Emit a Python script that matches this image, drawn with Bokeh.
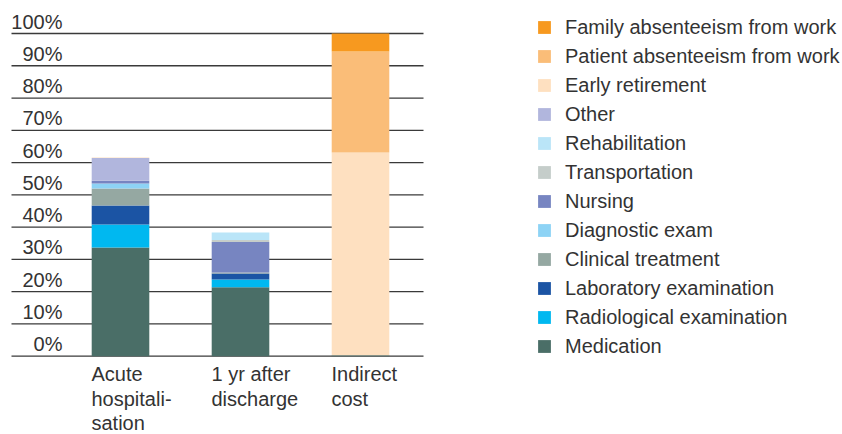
from bokeh.plotting import figure
from bokeh.models import Range1d, ColumnDataSource, Legend, LegendItem
from bokeh.core.properties import value
from bokeh.embed import file_html
from bokeh.resources import INLINE

# ---------------- data ----------------
categories = ["Acute hospitalisation", "1 yr after discharge", "Indirect cost"]
category_labels = ["Acute\nhospitali-\nsation", "1 yr after\ndischarge", "Indirect\ncost"]

medication = [33.7, 21.4, 0.3]
radiological_examination = [7.1, 2.4, 0.0]
laboratory_examination = [5.9, 1.8, 0.0]
clinical_treatment = [5.3, 0.3, 0.0]
diagnostic_exam = [1.5, 0.0, 0.0]
nursing = [0.9, 9.5, 0.0]
transportation = [0.0, 0.6, 0.0]
rehabilitation = [0.0, 2.3, 0.0]
other = [7.0, 0.0, 0.0]
early_retirement = [0.2, 0.0, 62.8]
patient_absenteeism = [0.0, 0.0, 31.3]
family_absenteeism = [0.0, 0.0, 5.6]

# bottom to top
series_names = [
    "Medication", "Radiological examination", "Laboratory examination",
    "Clinical treatment", "Diagnostic exam", "Nursing", "Transportation",
    "Rehabilitation", "Other", "Early retirement",
    "Patient absenteeism from work", "Family absenteeism from work",
]
series_values = [
    medication, radiological_examination, laboratory_examination,
    clinical_treatment, diagnostic_exam, nursing, transportation,
    rehabilitation, other, early_retirement,
    patient_absenteeism, family_absenteeism,
]
series_colors = [
    "#4a6e67", "#00b8f0", "#1b54a4", "#95a8a2", "#8dd3f5", "#7785c1",
    "#c5cdca", "#bae5f8", "#b1b6dd", "#fee0c0", "#fabd78", "#f7991f",
]

y_ticks = [0, 10, 20, 30, 40, 50, 60, 70, 80, 90, 100]
y_tick_labels = ["0%", "10%", "20%", "30%", "40%", "50%", "60%", "70%", "80%", "90%", "100%"]

# ---------------- layout ----------------
FONT = "Liberation Sans"
TEXT_COLOR = "#333333"
W, H = 842, 434
PX_X = 120.0          # pixels per category step
PX_Y = 3.227          # pixels per percent
x_start = 1 - 120 / PX_X
y_start = -(H - 355.7) / PX_Y

p = figure(width=W, height=H,
           x_range=Range1d(x_start, x_start + W / PX_X),
           y_range=Range1d(y_start, y_start + H / PX_Y),
           output_backend="svg", toolbar_location=None,
           min_border=0, outline_line_color=None)
p.xaxis.visible = False
p.yaxis.visible = False
p.xgrid.visible = False
p.ygrid.visible = False

# gridlines (limited horizontal span)
gx0 = x_start + 11 / PX_X
gx1 = x_start + 423 / PX_X
p.segment(x0=[gx0] * len(y_ticks), y0=y_ticks, x1=[gx1] * len(y_ticks), y1=y_ticks,
          line_color="#3a3a3a", line_width=1.3)

# stacked bars
xs = [1, 2, 3]
data = {"x": xs}
keys = []
for i, vals in enumerate(series_values):
    k = "s%d" % i
    keys.append(k)
    data[k] = vals
source = ColumnDataSource(data)
renderers = p.vbar_stack(keys, x="x", width=0.48, fill_color=series_colors,
                         line_color=None, source=source)

# y tick labels sitting above the gridlines
lx = x_start + 62 / PX_X
p.text(x=[lx] * len(y_ticks), y=y_ticks, text=y_tick_labels,
       text_align="right", text_baseline="bottom", y_offset=-1,
       text_font=value(FONT), text_font_size="20px", text_color=TEXT_COLOR)

# category labels
p.text(x=xs, y=[0] * len(xs), text=category_labels,
       x_offset=-29, y_offset=7, text_align="left", text_baseline="top",
       text_line_height=1.12,
       text_font=value(FONT), text_font_size="20px", text_color=TEXT_COLOR)

# legend (top to bottom = reverse of stack order)
items = [LegendItem(label=n, renderers=[r])
         for n, r in reversed(list(zip(series_names, renderers)))]
legend = Legend(items=items, location=(536, int(round(H - 358))),
                border_line_color=None, background_fill_alpha=0,
                padding=0, margin=0, spacing=5, label_standoff=13,
                glyph_width=16, glyph_height=16, label_height=24,
                label_text_font=FONT, label_text_font_size="20px",
                label_text_color=TEXT_COLOR)
p.add_layout(legend)

open("out.html", "w").write(file_html(p, INLINE))
